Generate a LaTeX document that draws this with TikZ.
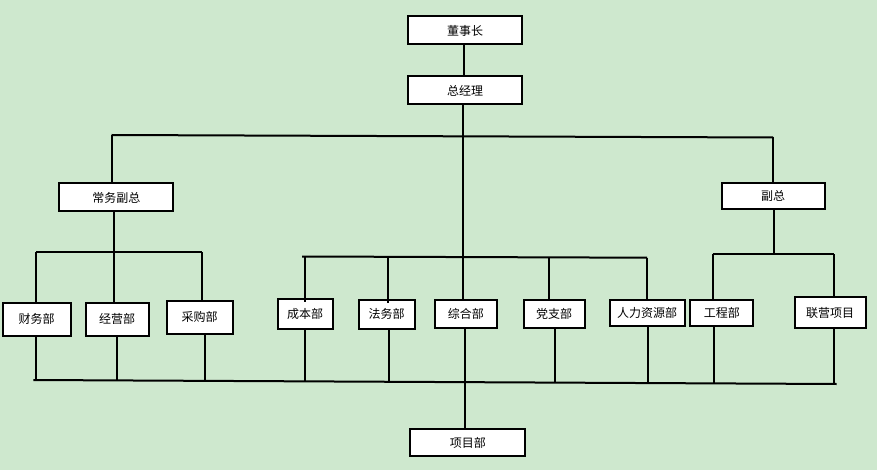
\documentclass[tikz,border=0pt]{standalone}
\usepackage{fontspec}
\newfontfamily\cjk{Noto Sans CJK SC}
\definecolor{bg}{RGB}{206,232,206}
\tikzset{
  box/.style={draw=black, fill=white, line width=2pt, inner sep=0pt,
    font=\cjk\fontsize{12}{14}\selectfont},
  wire/.style={draw=black, line width=2pt}
}
\begin{document}
\begin{tikzpicture}[x=1pt,y=-1pt]
\fill[bg] (0,0) rectangle (877,470);
\useasboundingbox (0,0) rectangle (877,470);
% boxes
\node[box, minimum width=114pt, minimum height=28pt] (dsz) at (465,30.5) {董事长};
\node[box, minimum width=114pt, minimum height=28pt] (zjl) at (465,90.5) {总经理};
\node[box, minimum width=114pt, minimum height=28pt] (cwfz) at (116.3,197.5) {常务副总};
\node[box, minimum width=103pt, minimum height=26pt] (fz) at (773,196) {副总};
\node[box, minimum width=68pt, minimum height=33pt] (cw) at (36.5,319) {财务部};
\node[box, minimum width=63pt, minimum height=33pt] (jy) at (117,319) {经营部};
\node[box, minimum width=66pt, minimum height=33pt] (cg) at (199.5,317.3) {采购部};
\node[box, minimum width=55pt, minimum height=30pt] (cb) at (305,313.5) {成本部};
\node[box, minimum width=56pt, minimum height=29pt] (fw) at (386.5,314) {法务部};
\node[box, minimum width=62pt, minimum height=28pt] (zh) at (465.8,314.3) {综合部};
\node[box, minimum width=61pt, minimum height=28pt] (dz) at (554,313.7) {党支部};
\node[box, minimum width=75pt, minimum height=26pt] (rl) at (647,312.5) {人力资源部};
\node[box, minimum width=63pt, minimum height=26pt] (gc) at (721.8,312.5) {工程部};
\node[box, minimum width=71pt, minimum height=31pt] (lyxm) at (830,312.8) {联营项目};
\node[box, minimum width=115pt, minimum height=27pt] (xmb) at (467.8,442.7) {项目部};
% bus coordinates
\coordinate (t1) at (111.6,135);
\coordinate (t2) at (773,137.5);
\coordinate (a1) at (36,252);
\coordinate (a2) at (202,252);
\coordinate (m1) at (302,256.5);
\coordinate (m2) at (647,257.7);
\coordinate (r1) at (712.7,254);
\coordinate (r2) at (834,254);
\coordinate (b1) at (33.3,380);
\coordinate (b2) at (836.7,384);
% buses
\draw[wire] (t1) -- (t2);
\draw[wire] (a1) -- (a2);
\draw[wire] (m1) -- (m2);
\draw[wire] (r1) -- (r2);
\draw[wire] (b1) -- (b2);
% top chain
\draw[wire] ([xshift=-1.2pt]dsz.south) -- ([xshift=-1.2pt]zjl.north);
\draw[wire] ([xshift=-1.7pt]zjl.south) -- ([xshift=-2.5pt]zh.north);
\draw[wire] ([xshift=-1.1pt]zh.south) -- ([xshift=-3.1pt]xmb.north);
% vice presidents
\draw[wire] (t1) -- ([xshift=-4.7pt]cwfz.north);
\draw[wire] (t2) -- (fz.north);
\draw[wire] ([xshift=-2.3pt]cwfz.south) -- ([xshift=-2.3pt]cwfz.south |- a1);
\draw[wire] ([xshift=0.7pt]fz.south) -- ([xshift=0.7pt]fz.south |- r1);
% children of 常务副总
\draw[wire] (a1) -- (a1 |- cw.north);
\draw[wire] ([xshift=-3pt]jy.north |- a1) -- ([xshift=-3pt,yshift=-1.7pt]jy.north);
\draw[wire] (a2) -- (a2 |- cg.north);
% children of middle bus
\draw[wire] (cb.north |- m1) -- ([yshift=-4.7pt]cb.north);
\draw[wire] ([xshift=1.5pt]fw.north |- m1) -- ([xshift=1.5pt,yshift=-4pt]fw.north);
\draw[wire] ([xshift=-5pt]dz.north |- m2) -- ([xshift=-5pt]dz.north);
\draw[wire] (m2) -- (rl.north);
% children of 副总
\draw[wire] (r1) -- (r1 |- gc.north);
\draw[wire] (r2) -- (r2 |- lyxm.north);
% down to bottom bus
\draw[wire] ([xshift=-0.5pt]cw.south) -- ([xshift=-0.5pt]cw.south |- 0,380);
\draw[wire] (jy.south) -- (jy.south |- 0,380.3);
\draw[wire] ([xshift=5.2pt]cg.south) -- ([xshift=5.2pt]cg.south |- 0,380.6);
\draw[wire] (cb.south) -- (cb.south |- 0,381.4);
\draw[wire] ([xshift=2.2pt]fw.south) -- ([xshift=2.2pt]fw.south |- 0,381.8);
\draw[wire] ([xshift=1pt]dz.south) -- ([xshift=1pt]dz.south |- 0,382.6);
\draw[wire] ([xshift=1pt]rl.south) -- ([xshift=1pt]rl.south |- 0,383.1);
\draw[wire] ([xshift=-7.8pt]gc.south) -- ([xshift=-7.8pt]gc.south |- 0,383.4);
\draw[wire] ([xshift=4pt,yshift=2pt]lyxm.south) -- ([xshift=4pt]lyxm.south |- 0,384);
\end{tikzpicture}
\end{document}
